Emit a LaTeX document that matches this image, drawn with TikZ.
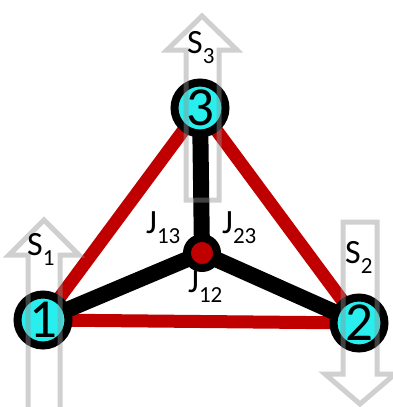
\documentclass[tikz,border=0pt]{standalone}
\usepackage{fontspec}
\setmainfont{Carlito}
\definecolor{sitecyan}{RGB}{40,238,238}
\definecolor{bondred}{RGB}{192,0,0}
\definecolor{arrowgray}{RGB}{147,147,147}
\newcommand{\spinlab}[2]{{\fontsize{34}{34}\selectfont #1}\raisebox{-10pt}{\fontsize{23}{23}\selectfont #2}}
\tikzset{
  site/.style={circle, fill=sitecyan, draw=black, line width=8pt, minimum size=51pt,
    inner sep=0pt, font=\fontsize{55}{55}\selectfont},
  hub/.style={circle, fill=bondred, draw=black, line width=8pt, minimum size=30pt, inner sep=0pt},
  redbond/.style={bondred, line width=13pt},
  blackbond/.style={black, line width=16pt},
  spinarrow/.style={draw=arrowgray, opacity=0.44, line width=5pt, line join=miter},
  lab/.style={anchor=base west, inner sep=0pt}
}
\begin{document}
\begin{tikzpicture}[x=1pt,y=-1pt]
\useasboundingbox (0,0) rectangle (392,407);

\coordinate (c1) at (43,320);
\coordinate (c2) at (359,323);
\coordinate (c3) at (200,108);
\coordinate (c0) at (202,253);

% triangle of red bonds
\draw[redbond] (c1) -- (c2) -- (c3) -- cycle;

% black bonds to the centre
\draw[blackbond] (c0) -- (c1);
\draw[blackbond] (c0) -- (c2);
\draw[blackbond] (c0) -- (c3);

\node[hub] (hub) at (c0) {};
\node[site] (n1) at (c1) {1};
\node[site] (n2) at (c2) {2};
\node[site] (n3) at (c3) {3};

% spin arrows
\draw[spinarrow] (28,415) -- (28,255) -- (9,255) -- (44,220) -- (79,255) -- (60,255) -- (60,415);
\draw[spinarrow] (186,200) -- (186,50) -- (167,50) -- (202,16) -- (237,50) -- (219,50) -- (219,200) -- cycle;
\draw[spinarrow] (343,222) -- (343,374) -- (325,374) -- (360,404) -- (395,374) -- (377,374) -- (377,222) -- cycle;

% labels
\node[lab] (s1) at (27,255) {\spinlab{S}{1}};
\node[lab] (s3) at (187,53) {\spinlab{S}{3}};
\node[lab] (s2) at (345,263) {\spinlab{S}{2}};
\node[lab] (j13) at (146,233) {\spinlab{J}{13}};
\node[lab] (j23) at (222,233) {\spinlab{J}{23}};
\node[lab] (j12) at (188,292) {\spinlab{J}{12}};
\end{tikzpicture}
\end{document}
